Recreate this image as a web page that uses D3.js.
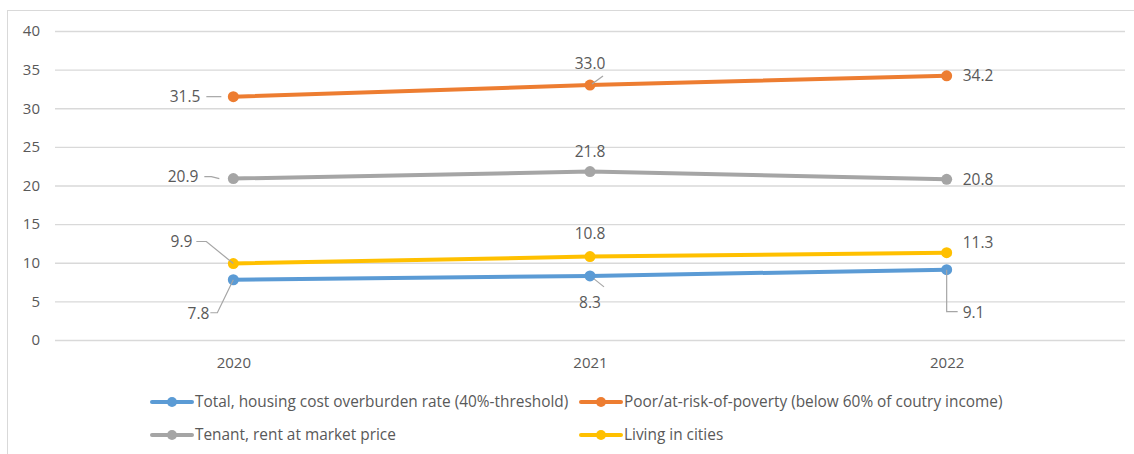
<!DOCTYPE html>
<html><head><meta charset="utf-8">
<script src="https://cdn.jsdelivr.net/npm/d3@7"></script>
<style>
html,body{margin:0;padding:0;background:#fff;}
svg text{font-family:"Open Sans",sans-serif;fill:#595959;}
</style></head>
<body><svg id="c" width="1134" height="454"></svg>
<script>
const years = ["2020","2021","2022"];
const seriesNames = ["Total, housing cost overburden rate (40%-threshold)","Poor/at-risk-of-poverty (below 60% of coutry income)","Tenant, rent at market price","Living in cities"];
const totalVals = [7.8, 8.3, 9.1];
const poorVals = [31.5, 33.0, 34.2];
const tenantVals = [20.9, 21.8, 20.8];
const citiesVals = [9.9, 10.8, 11.3];
const yTicks = [0,5,10,15,20,25,30,35,40];
const colors = ["#5B9BD5","#ED7D31","#A5A5A5","#FFC000"];
const allVals = [totalVals, poorVals, tenantVals, citiesVals];

// label placement (pixel offsets from point; leader polyline offsets)
const labelPlace = [
  [ {dx:-24,dy:34,a:"end",lead:[[0,0],[-16,33],[-23,33]]}, {dx:0,dy:27,a:"middle",lead:[[4,3],[14,11]]}, {dx:16,dy:43,a:"start",lead:[[0,0],[0,42],[11,42]]} ],
  [ {dx:-33,dy:0,a:"end",lead:[[-12,0],[-27,0]]}, {dx:0,dy:-22,a:"middle",lead:[[2,-1],[13,-9]]}, {dx:16,dy:0,a:"start",lead:null} ],
  [ {dx:-35,dy:-2,a:"end",lead:[[-14,0],[-22,-2],[-29,-2]]}, {dx:0,dy:-20,a:"middle",lead:null}, {dx:16,dy:0,a:"start",lead:null} ],
  [ {dx:-41,dy:-22,a:"end",lead:[[0,0],[-27,-22],[-37,-22]]}, {dx:0,dy:-23,a:"middle",lead:null}, {dx:16,dy:-10,a:"start",lead:null} ]
];

const svg = d3.select("#c");
const L = 55, R = 1125, T = 31, B = 340;
svg.append("rect").attr("x",7.5).attr("y",10.5).attr("width",1140).attr("height",460)
  .attr("fill","none").attr("stroke","#d9d9d9");

const x = d3.scalePoint().domain(years).range([L,R]).padding(0.5);
const y = d3.scaleLinear().domain([0,40]).range([B,T]);

const gy = svg.append("g").attr("transform",`translate(${L},0)`)
  .call(d3.axisLeft(y).tickValues(yTicks).tickSize(-(R-L)).tickPadding(15));
gy.select(".domain").remove();
gy.selectAll(".tick line").attr("stroke","#d9d9d9").attr("stroke-width",1.3);
gy.selectAll(".tick text").style("font-size","15px").attr("fill","#595959");

const gx = svg.append("g").attr("transform",`translate(0,${B})`)
  .call(d3.axisBottom(x).tickSize(0).tickPadding(17));
gx.select(".domain").remove();
gx.selectAll(".tick text").style("font-size","15px").attr("fill","#595959");

const line = d3.line().x((d,i)=>x(years[i])).y(d=>y(d));
const order = [0,1,2,3];
order.forEach(s=>{
  svg.append("path").datum(allVals[s]).attr("d",line).attr("fill","none")
    .attr("stroke",colors[s]).attr("stroke-width",4).attr("stroke-linecap","round");
  svg.selectAll(null).data(allVals[s]).enter().append("circle")
    .attr("cx",(d,i)=>x(years[i])).attr("cy",d=>y(d)).attr("r",5.5).attr("fill",colors[s]);
});

// data labels
order.forEach(s=>{
  allVals[s].forEach((v,i)=>{
    const px = x(years[i]), py = y(v), p = labelPlace[s][i];
    if(p.lead){
      svg.append("polyline").attr("points",p.lead.map(q=>[px+q[0],py+q[1]].join(",")).join(" "))
        .attr("fill","none").attr("stroke","#a6a6a6").attr("stroke-width",1.2);
    }
    svg.append("text").attr("x",px+p.dx).attr("y",py+p.dy).attr("dy","0.35em")
      .attr("text-anchor",p.a).style("font-size","15.5px").text(v.toFixed(1));
  });
});

// legend
const legPos = [[152,402],[581,402],[152,435],[581,435]];
seriesNames.forEach((n,s)=>{
  const g = svg.append("g").attr("transform",`translate(${legPos[s][0]},${legPos[s][1]})`);
  g.append("line").attr("x1",0).attr("x2",40).attr("stroke",colors[s]).attr("stroke-width",4).attr("stroke-linecap","round");
  g.append("circle").attr("cx",20).attr("r",5).attr("fill",colors[s]);
  g.append("text").attr("x",43).attr("dy","0.35em").style("font-size","15.4px").text(n);
});
</script></body></html>
